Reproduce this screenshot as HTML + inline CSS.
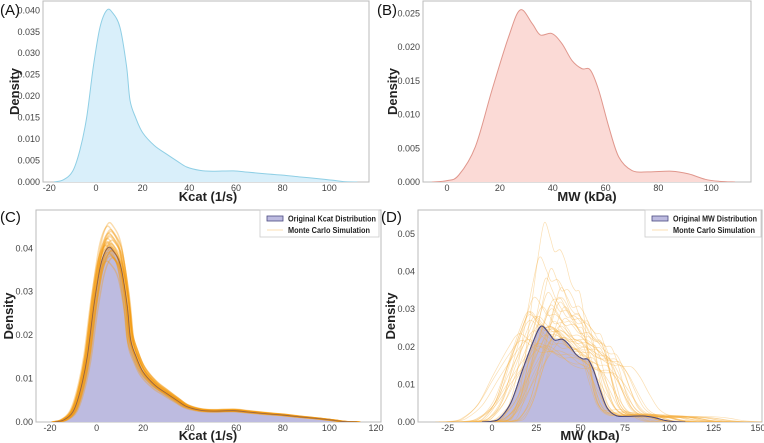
<!DOCTYPE html>
<html><head><meta charset="utf-8"><style>
body{margin:0;background:#fff;}
svg{display:block;font-family:"Liberation Sans",sans-serif;}
.tk{font-size:9px;fill:#444;}
.al{font-size:13px;font-weight:bold;fill:#222;}
.pl{font-size:15px;fill:#111;}
.lg{font-size:8px;font-weight:bold;fill:#222;}
</style></head><body>
<svg id="fig" width="764" height="443" viewBox="0 0 764 443"></svg>
<script>
// Kcat density (original)
const kcatX=[-18,-14,-10,-6.9,-4,-1.1,1.7,4.6,7,10.3,13.1,14.6,17,20,25,30,35,38.9,44.6,50,58.9,65,73,80,87,95,101.7,106,112];
const kcatY=[0,0.0005,0.0025,0.0074,0.015,0.027,0.036,0.040,0.0395,0.036,0.027,0.019,0.015,0.0115,0.0085,0.0066,0.0048,0.0035,0.0027,0.0025,0.0026,0.0023,0.0019,0.0016,0.0012,0.0008,0.0004,0.0001,0];
// MW density (original)
const mwX=[-5.7,0,4.4,10.7,17,23.3,27.7,32.2,35.3,39.7,43.5,47.3,51,54.2,57.4,61.2,65,70,76.3,85,91.4,97.7,103,109];
const mwY=[0,0.0002,0.001,0.0052,0.0136,0.0215,0.0255,0.0235,0.0218,0.022,0.0205,0.018,0.0168,0.0166,0.0136,0.0082,0.0037,0.0017,0.0015,0.0016,0.0012,0.0004,0.0001,0];
// Monte Carlo simulation parameters (y scale, x shift, x stretch)
const simCScale=[0.92,0.95,0.97,0.98,1.0,1.01,1.02,1.03,1.04,1.05,1.06,1.08,1.1,1.12,1.14,0.94,0.99,1.0,1.03,1.07,0.96,1.01,1.09,0.98,1.02];
const simCShift=[-1,0.5,-0.5,1,0,-1.5,0.8,-0.3,1.2,-0.8,0.3,-0.2,0.6,-0.6,0.2,1.5,-1.2,0.9,-0.9,0.4,0.1,-0.4,0.7,1.1,-0.7];
const simDScale=[2.08,1.72,1.6,1.3,1.25,1.18,1.12,1.05,1.0,0.95,0.9,0.85,1.35,1.4,1.15,1.08,1.02,0.98,0.92,0.88,1.1,1.22,1.5,1.3,1.06,0.96,0.82,1.15,1.28,0.9,1.1,1.2,0.78,0.86,1.0,1.2];
const simDShift=[0,-2,4,-4,10,6,-6,8,12,-2,4,-8,3,10,-6,14,0,8,-10,16,-3,5,1,9,-5,12,2,-7,7,11,-1,13,4,-4,6,0];
const simDStretch=[0.75,0.85,0.8,1.0,0.95,1.05,1.1,1.15,1.2,1.3,1.35,1.45,0.9,0.85,1.05,1.1,1.15,1.25,1.35,1.45,1.1,0.95,0.78,0.9,1.2,1.3,1.5,1.05,1.0,1.4,1.15,1.0,1.55,1.5,1.25,0.95];
const xTicksA=[-20,0,20,40,60,80,100], yTicksA=[0,0.005,0.01,0.015,0.02,0.025,0.03,0.035,0.04];
const xTicksB=[0,20,40,60,80,100], yTicksB=[0,0.005,0.01,0.015,0.02,0.025];
const xTicksC=[-20,0,20,40,60,80,100,120], yTicksC=[0,0.01,0.02,0.03,0.04];
const xTicksD=[-25,0,25,50,75,100,125,150], yTicksD=[0,0.01,0.02,0.03,0.04,0.05];

const NS="http://www.w3.org/2000/svg", svg=document.getElementById('fig');
function mk(tag,attrs,parent,txt){const e=document.createElementNS(NS,tag);for(const k in attrs)e.setAttribute(k,attrs[k]);if(txt!==undefined)e.textContent=txt;(parent||svg).appendChild(e);return e;}
function smoothPath(pts){let d='M'+pts[0][0].toFixed(2)+','+pts[0][1].toFixed(2);for(let i=0;i<pts.length-1;i++){const p0=pts[Math.max(0,i-1)],p1=pts[i],p2=pts[i+1],p3=pts[Math.min(pts.length-1,i+2)];const c1=[p1[0]+(p2[0]-p0[0])/6,p1[1]+(p2[1]-p0[1])/6],c2=[p2[0]-(p3[0]-p1[0])/6,p2[1]-(p3[1]-p1[1])/6];d+='C'+c1[0].toFixed(2)+','+c1[1].toFixed(2)+' '+c2[0].toFixed(2)+','+c2[1].toFixed(2)+' '+p2[0].toFixed(2)+','+p2[1].toFixed(2);}return d;}
function scaleOf(o,px0,px1){o.sx=v=>px0+(v-o.x0)/(o.x1-o.x0)*(px1-px0);o.sy=v=>o.B-v/o.y1*(o.B-o.T1);}
function buildPanel(o,px0,px1){
  const g=mk('g',{});
  
  scaleOf(o,px0,px1);
  const cp=mk('clipPath',{id:'clip-'+o.name},g);
  mk('rect',{x:o.L,y:o.T,width:o.R-o.L,height:o.B-o.T},cp);
  const fr=mk('rect',{x:o.L,y:o.T,width:o.R-o.L,height:o.B-o.T,fill:'#fff',stroke:'#bbb','stroke-width':1},g);
  
  o.xt.forEach(v=>{const t=mk('text',{x:o.sx(v),y:o.B+9,'text-anchor':'middle',class:'tk'},g,String(v));});
  o.yt.forEach(v=>{const t=mk('text',{x:o.L-3,y:o.sy(v)+3,'text-anchor':'end',class:'tk'},g,v.toFixed(o.yd));});
  const xl=mk('text',{x:o.xlx,y:o.B+o.xly,'text-anchor':'middle',class:'al'},g,o.xlabel);
  
  const cy=(o.T+o.B)/2;
  const yl=mk('text',{x:o.ylx,y:cy,'text-anchor':'middle',class:'al',transform:'rotate(-90 '+o.ylx+' '+cy+')'},g,'Density');
  
  const pl=mk('text',{x:o.plx,y:o.ply,class:'pl'},g,o.plabel);
  
  const inner=mk('g',{'clip-path':'url(#clip-'+o.name+')'},g);
  
  return inner;
}
function area(o,g,X,Y,fill,stroke,sw){
  const pts=X.map((x,i)=>[o.sx(x),o.sy(Y[i])]);
  const d=smoothPath(pts);
  const a=mk('path',{d:d+'L'+pts[pts.length-1][0]+','+o.B+'L'+pts[0][0]+','+o.B+'Z',fill:fill,stroke:'none'},g);
  
  const l=mk('path',{d:d,fill:'none',stroke:stroke,'stroke-width':sw},g);
  
}
function sims(o,g,X,Y,scales,shifts,stretch,center,col,sw,op){
  scales.forEach((s,k)=>{
    const st=stretch?stretch[k]:1;
    const pts=X.map((x,i)=>[o.sx(center+(x-center)*st+shifts[k]),o.sy(Y[i]*s)]);
    const p=mk('path',{d:smoothPath(pts),fill:'none',stroke:col,'stroke-width':sw,'stroke-opacity':op},g);
    
  });
}
function legend(g,x,y,w,label,tl1,tl2){
  const b=mk('rect',{x:x,y:y,width:w,height:27,fill:'#fff',stroke:'#ccc','stroke-width':0.8},g);
  
  const p=mk('rect',{x:x+7,y:y+6,width:16,height:5,fill:'#bdbbe0',stroke:'#4a4a80','stroke-width':0.8},g);
  
  const t1=mk('text',{x:x+28,y:y+11.5,class:'lg',textLength:tl1,lengthAdjust:'spacingAndGlyphs'},g,label);
  
  const l=mk('line',{x1:x+7,x2:x+23,y1:y+20,y2:y+20,stroke:'#f5b041','stroke-width':0.8,'stroke-opacity':0.5},g);
  
  const t2=mk('text',{x:x+28,y:y+23,class:'lg',textLength:tl2,lengthAdjust:'spacingAndGlyphs'},g,'Monte Carlo Simulation');
  
}
const PA={name:'panel-a',L:43,R:369,T:1,B:182,T1:10.3,x0:-20,x1:100,y1:0.04,xt:xTicksA,yt:yTicksA,yd:3,xlabel:'Kcat (1/s)',xlx:208,xly:19,ylx:19,plabel:'(A)',plx:0,ply:15};
const gA=buildPanel(PA,49.3,329.3);
area(PA,gA,kcatX,kcatY,'#d9effa','#8fcfe5',1);

const PB={name:'panel-b',L:423,R:751,T:1,B:182,T1:13.3,x0:0,x1:100,y1:0.025,xt:xTicksB,yt:yTicksB,yd:3,xlabel:'MW (kDa)',xlx:587,xly:19,ylx:397,plabel:'(B)',plx:377,ply:15};
const gB=buildPanel(PB,447,711.3);
area(PB,gB,mwX,mwY,'#fbdad6','#e0978d',1);

const PC={name:'panel-c',L:36,R:381,T:210,B:422,T1:248.3,x0:-20,x1:120,y1:0.04,xt:xTicksC,yt:yTicksC,yd:2,xlabel:'Kcat (1/s)',xlx:208,xly:18,ylx:13,plabel:'(C)',plx:0,ply:222};
const gC=buildPanel(PC,50,376);
area(PC,gC,kcatX,kcatY,'#bdbbe0','#4a4a80',1);
sims(PC,gC,kcatX,kcatY,simCScale,simCShift,null,5,'#f39c12',1.4,0.35);
const oc=mk('path',{d:smoothPath(kcatX.map((x,i)=>[PC.sx(x),PC.sy(kcatY[i])])),fill:'none',stroke:'#6b4a60','stroke-width':0.8,'stroke-opacity':0.7},gC);

legend(svg,260,210,119,'Original Kcat Distribution',88,82);

const PD={name:'panel-d',L:418,R:762,T:210,B:422,T1:234,x0:-25,x1:150,y1:0.05,xt:xTicksD,yt:yTicksD,yd:2,xlabel:'MW (kDa)',xlx:590,xly:18,ylx:395,plabel:'(D)',plx:381,ply:222};
const gD=buildPanel(PD,447.7,758);
area(PD,gD,mwX,mwY,'#bdbbe0','#4a4a80',1);
sims(PD,gD,mwX,mwY,simDScale,simDShift,simDStretch,35,'#f5b041',0.7,0.4);
const od=mk('path',{d:smoothPath(mwX.map((x,i)=>[PD.sx(x),PD.sy(mwY[i])])),fill:'none',stroke:'#4a4a80','stroke-width':1},gD);

legend(svg,645,210,116,'Original MW Distribution',84,82);
</script>
</body></html>
